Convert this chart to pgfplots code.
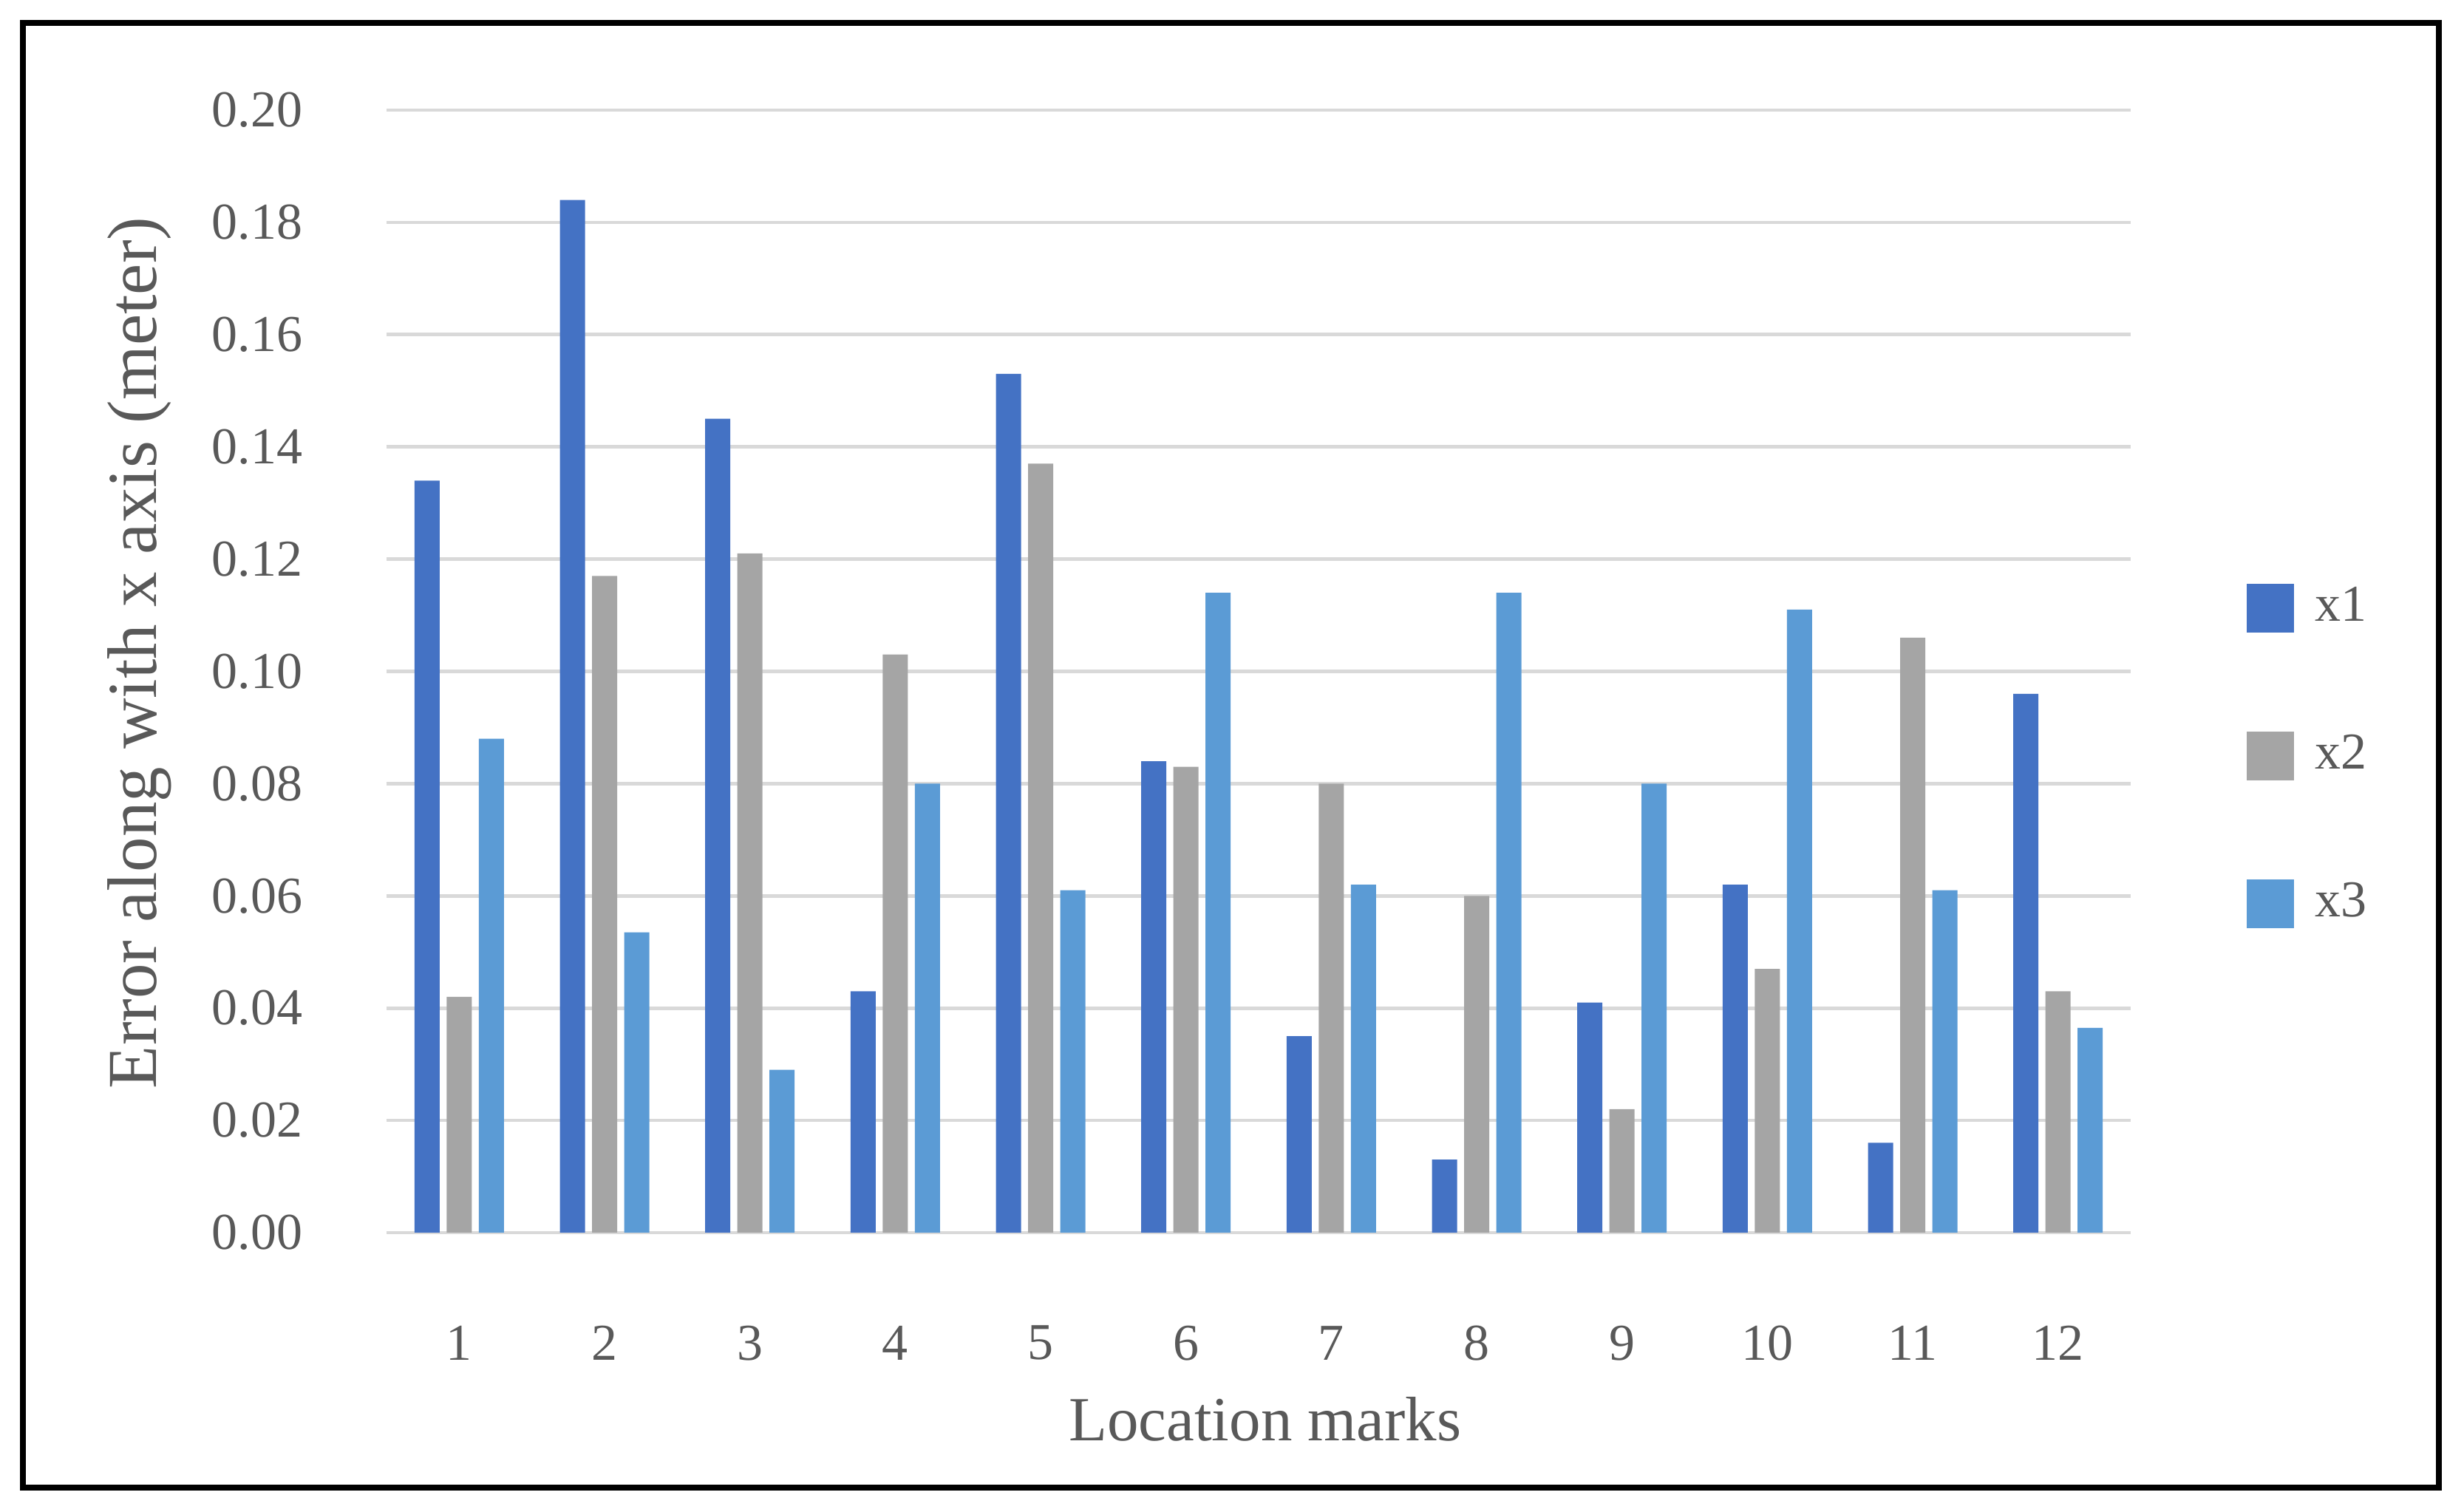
\documentclass[border=0pt]{standalone}
\usepackage{fontspec}
\setmainfont{Liberation Serif}
\usepackage{pgfplots}
\pgfplotsset{compat=1.18}
\definecolor{cxa}{HTML}{4472C4}
\definecolor{cxb}{HTML}{A5A5A5}
\definecolor{cxc}{HTML}{5B9BD5}
\definecolor{gridc}{HTML}{D9D9D9}
\definecolor{txt}{HTML}{595959}
\begin{document}
\begin{tikzpicture}
\path[use as bounding box] (0,0) rectangle (466.76pt,286.44pt);
\draw[black, line width=1.1pt] (4.34pt,4.62pt) rectangle (462pt,282.1pt);
\begin{axis}[
  at={(73.22pt,52.92pt)}, anchor=south west,
  scale only axis, width=330.4pt, height=212.66pt,
  xmin=0.5, xmax=12.5, ymin=0, ymax=0.2,
  ybar=1.33pt, bar width=4.76pt,
  axis line style={draw=none},
  tick style={draw=none},
  major tick length=0pt,
  xtick={1,2,3,4,5,6,7,8,9,10,11,12},
  ytick={0,0.02,0.04,0.06,0.08,0.1,0.12,0.14,0.16,0.18,0.2},
  ymajorgrids,
  grid style={gridc, line width=0.65pt},
  /pgf/number format/assume math mode=true,
  yticklabel style={/pgf/number format/.cd, fixed, fixed zerofill, precision=2, /tikz/.cd,
    anchor=east, inner sep=0pt, xshift=-15.7pt, text=txt, font=\fontsize{9.8pt}{10pt}\selectfont},
  xticklabel style={anchor=center, inner sep=0pt, yshift=-20.9pt, text=txt, font=\fontsize{9.8pt}{10pt}\selectfont},
  xlabel={Location marks},
  ylabel={Error along with x axis (meter)},
  xlabel style={at={(axis description cs:0.5038,-0.1856)}, anchor=base, text=txt, font=\fontsize{11.9pt}{12pt}\selectfont},
  ylabel style={at={(axis description cs:-0.1318,0.5165)}, anchor=base, text=txt, font=\fontsize{13.3pt}{14pt}\selectfont},
  legend image code/.code={\fill[#1] (0pt,-4.6pt) rectangle (9pt,4.6pt);},
  legend cell align=left,
  legend style={at={(axis description cs:1.0665,0.578)}, anchor=north west, draw=none, fill=none,
    inner sep=0pt, outer sep=0pt, row sep=18.8pt,
    nodes={inner sep=0pt, text=txt, font=\fontsize{9.8pt}{10pt}\selectfont},
    /tikz/every odd column/.append style={column sep=3.9pt}},
]
\addplot[draw=none, fill=cxa] coordinates {(1,0.134) (2,0.184) (3,0.145) (4,0.043) (5,0.153) (6,0.084) (7,0.035) (8,0.013) (9,0.041) (10,0.062) (11,0.016) (12,0.096)};
\addplot[draw=none, fill=cxb] coordinates {(1,0.042) (2,0.117) (3,0.121) (4,0.103) (5,0.137) (6,0.083) (7,0.080) (8,0.060) (9,0.022) (10,0.047) (11,0.106) (12,0.043)};
\addplot[draw=none, fill=cxc] coordinates {(1,0.088) (2,0.0535) (3,0.029) (4,0.080) (5,0.061) (6,0.114) (7,0.062) (8,0.114) (9,0.080) (10,0.111) (11,0.061) (12,0.0365)};
\legend{x1,x2,x3}
\end{axis}
\end{tikzpicture}
\end{document}
